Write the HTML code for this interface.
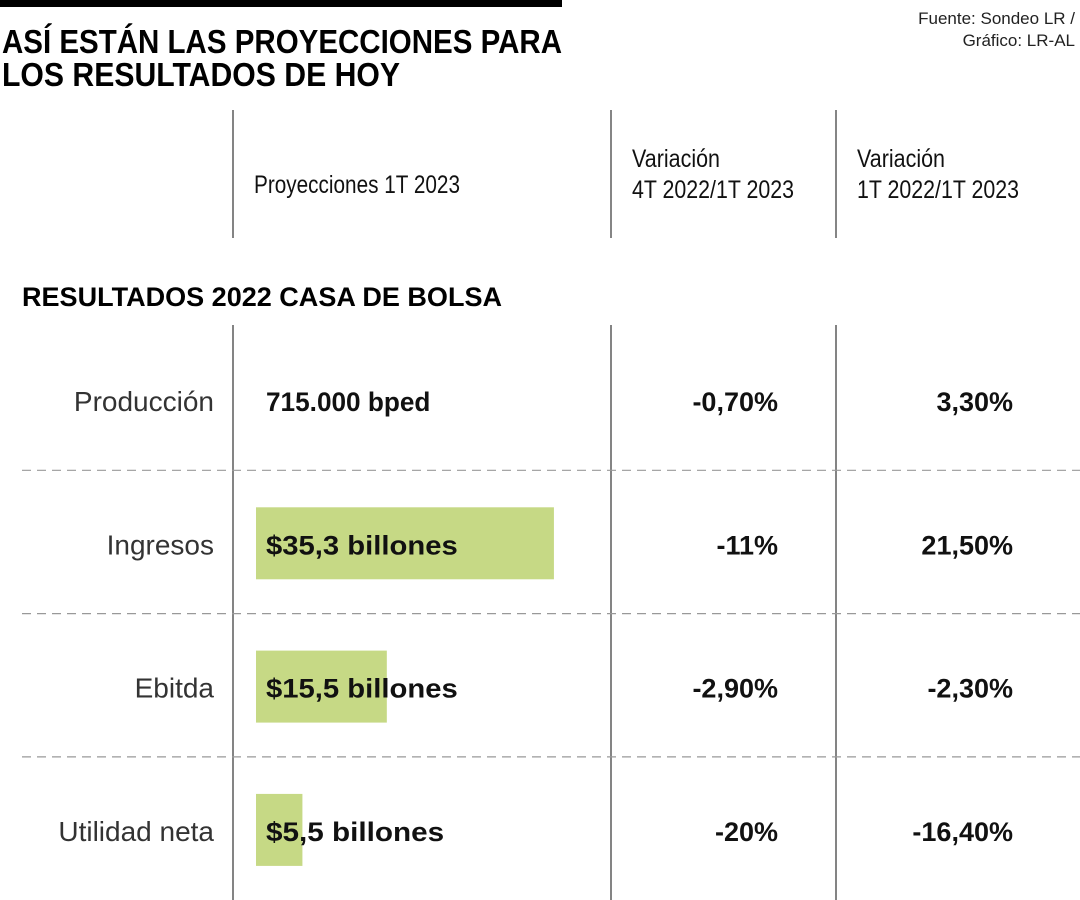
<!DOCTYPE html>
<html><head><meta charset="utf-8"><style>
html,body{margin:0;padding:0;background:#fff;width:1080px;height:900px;overflow:hidden}
svg{display:block;font-family:"Liberation Sans Narrow","Liberation Sans",sans-serif}
</style></head><body>
<svg id="c" width="1080" height="900" viewBox="0 0 1080 900">
<rect x="0" y="0" width="562" height="7" fill="#000"/>
<text x="2" y="53" font-size="33" font-weight="800" textLength="560" lengthAdjust="spacingAndGlyphs">ASÍ ESTÁN LAS PROYECCIONES PARA</text>
<text x="2" y="86" font-size="33" font-weight="800" textLength="398" lengthAdjust="spacingAndGlyphs">LOS RESULTADOS DE HOY</text>
<text x="1075" y="24" font-size="17" text-anchor="end" fill="#222">Fuente: Sondeo LR /</text>
<text x="1075" y="46" font-size="17" text-anchor="end" fill="#222">Gráfico: LR-AL</text>
<g stroke="#333" stroke-width="1.2">
<line x1="233" y1="110" x2="233" y2="238"/><line x1="611" y1="110" x2="611" y2="238"/><line x1="836" y1="110" x2="836" y2="238"/>
<line x1="233" y1="325" x2="233" y2="900"/><line x1="611" y1="325" x2="611" y2="900"/><line x1="836" y1="325" x2="836" y2="900"/>
</g>
<g font-size="25" fill="#111">
<text x="254" y="193" textLength="206" lengthAdjust="spacingAndGlyphs">Proyecciones 1T 2023</text>
<text x="632" y="167" textLength="88" lengthAdjust="spacingAndGlyphs">Variación</text>
<text x="632" y="198" textLength="162" lengthAdjust="spacingAndGlyphs">4T 2022/1T 2023</text>
<text x="857" y="167" textLength="88" lengthAdjust="spacingAndGlyphs">Variación</text>
<text x="857" y="198" textLength="162" lengthAdjust="spacingAndGlyphs">1T 2022/1T 2023</text>
</g>
<text x="22" y="306" font-size="27" font-weight="800" textLength="480" lengthAdjust="spacingAndGlyphs">RESULTADOS 2022 CASA DE BOLSA</text>
<g id="rows"></g>
</svg>
<script>
const categories=["Producción","Ingresos","Ebitda","Utilidad neta"];
const barValues=[null,35.3,15.5,5.5];
const valueLabels=["715.000 bped","$35,3 billones","$15,5 billones","$5,5 billones"];
const varQ=["-0,70%","-11%","-2,90%","-20%"];
const varY=["3,30%","21,50%","-2,30%","-16,40%"];
const NS="http://www.w3.org/2000/svg";
const g=document.getElementById('rows');
const x=v=>256+v*8.44;
const rowY=i=>401+i*143.3;
function mk(t,a,txt){const e=document.createElementNS(NS,t);for(const k in a)e.setAttribute(k,a[k]);if(txt!=null)e.textContent=txt;g.appendChild(e);return e;}
categories.forEach((c,i)=>{
 const cy=rowY(i);
 if(i>0){const l=mk('line',{x1:22,x2:1080,y1:cy-74,y2:cy-74,stroke:'#999','stroke-width':1.2,'stroke-dasharray':'9 6'});
 
 }
 if(barValues[i]!=null){const r=mk('rect',{x:256,y:cy-37,width:x(barValues[i])-256,height:72,fill:'#c6d985'});
 
 }
 const lb=mk('text',{x:214,y:cy+10,'font-size':28,'text-anchor':'end',fill:'#333','font-family':'"Liberation Sans",sans-serif','font-weight':'300'},c);
 
 
 const vl=mk('text',{x:266,y:cy+10,'font-size':27,'font-weight':'bold',fill:'#111','font-family':'"Liberation Sans",sans-serif',textLength:valueLabels[i].length*13.7,lengthAdjust:'spacingAndGlyphs'},valueLabels[i]);
 
 
 const q=mk('text',{x:778,y:cy+10,'font-size':27,'font-weight':'bold','text-anchor':'end',fill:'#111','font-family':'"Liberation Sans",sans-serif'},varQ[i]);
 
 
 const y=mk('text',{x:1013,y:cy+10,'font-size':27,'font-weight':'bold','text-anchor':'end',fill:'#111','font-family':'"Liberation Sans",sans-serif'},varY[i]);
 
 
});
</script>
</body></html>
